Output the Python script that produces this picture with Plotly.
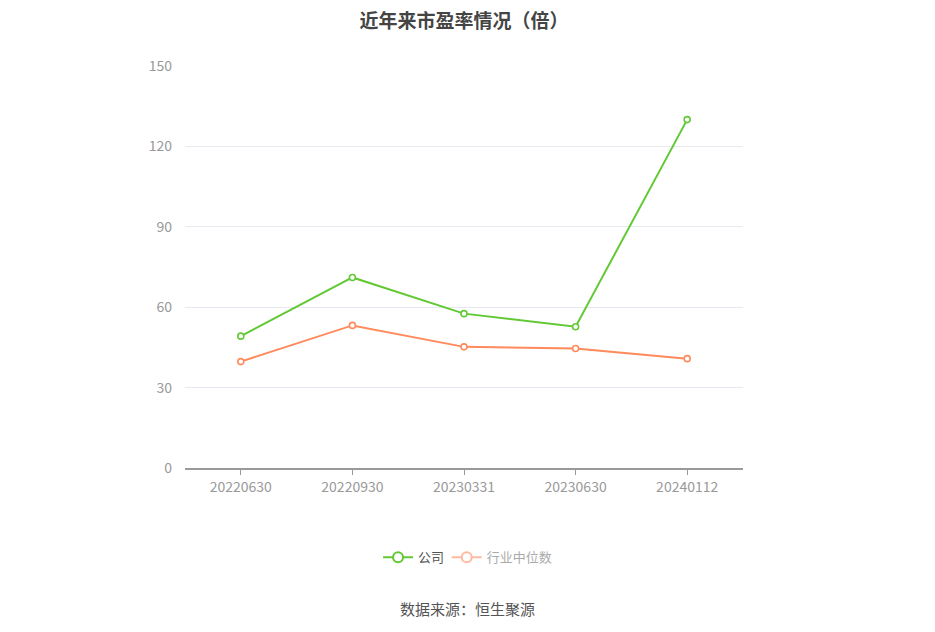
import plotly.graph_objects as go

# data
dates = ['20220630', '20220930', '20230331', '20230630', '20240112']
company_pe = [49.2, 71.1, 57.6, 52.7, 130.0]
industry_pe = [39.7, 53.2, 45.2, 44.6, 40.8]

green = '#62c935'
orange = '#ff8a5b'
orange_pale = '#ffbaa0'
font_family = 'Noto Sans CJK SC, Noto Sans, sans-serif'

fig = go.Figure()

# lines
fig.add_trace(go.Scatter(x=dates, y=company_pe, name='公司', mode='lines+markers',
                         line=dict(color=green, width=2),
                         marker=dict(symbol='circle', size=6, color='white',
                                     line=dict(color=green, width=1.6)),
                         showlegend=False))

fig.add_trace(go.Scatter(x=dates, y=industry_pe, name='行业中位数', mode='lines+markers',
                         line=dict(color=orange, width=2),
                         marker=dict(symbol='circle', size=6, color='white',
                                     line=dict(color=orange, width=1.6)),
                         showlegend=False))

# legend-only entries (bigger icons)
fig.add_trace(go.Scatter(x=[None], y=[None], name='公司', mode='lines+markers',
                         line=dict(color=green, width=2),
                         marker=dict(symbol='circle', size=10, color='white',
                                     line=dict(color=green, width=2)),
                         legend='legend'))
fig.add_trace(go.Scatter(x=[None], y=[None], name='行业中位数', mode='lines+markers',
                         line=dict(color=orange_pale, width=2),
                         marker=dict(symbol='circle', size=10, color='white',
                                     line=dict(color=orange_pale, width=2)),
                         legend='legend2'))

fig.update_layout(
    width=935, height=632,
    margin=dict(l=177, r=200, t=58, b=172),
    paper_bgcolor='white', plot_bgcolor='white',
    font=dict(family=font_family, color='#999999', size=14),
    title=dict(text='<b>近年来市盈率情况（倍）</b>', x=0.5, xref='paper', xanchor='center',
               y=0.979, yanchor='middle',
               font=dict(size=19, color='#444444', family=font_family)),
    showlegend=True,
    legend=dict(orientation='h', x=0.475, xanchor='right', y=-0.222, yanchor='middle',
                font=dict(size=13, color='#555555'), itemwidth=30,
                bgcolor='rgba(0,0,0,0)'),
    legend2=dict(orientation='h', x=0.469, xanchor='left', y=-0.222, yanchor='middle',
                 font=dict(size=13, color='#aaaaaa'), itemwidth=30,
                 bgcolor='rgba(0,0,0,0)'),
)

fig.update_xaxes(type='category', range=[-0.5, 4.5], showgrid=False,
                 showline=True, linecolor='#999999', linewidth=1.5,
                 ticks='outside', ticklen=5, tickcolor='#999999',
                 tickfont=dict(size=14, color='#999999'))

fig.update_yaxes(range=[0, 150], tickvals=[0, 30, 60, 90, 120, 150],
                 showgrid=True, gridcolor='#e6e9f0', gridwidth=1,
                 zeroline=False, showline=False, ticks='', ticklabelstandoff=12,
                 tickfont=dict(size=14, color='#999999'))

fig.add_annotation(text='数据来源：恒生聚源', xref='paper', yref='paper',
                   x=0.506, y=-0.35, xanchor='center', yanchor='middle', showarrow=False,
                   font=dict(size=15, color='#555555', family=font_family))

fig.write_html('out.html')
